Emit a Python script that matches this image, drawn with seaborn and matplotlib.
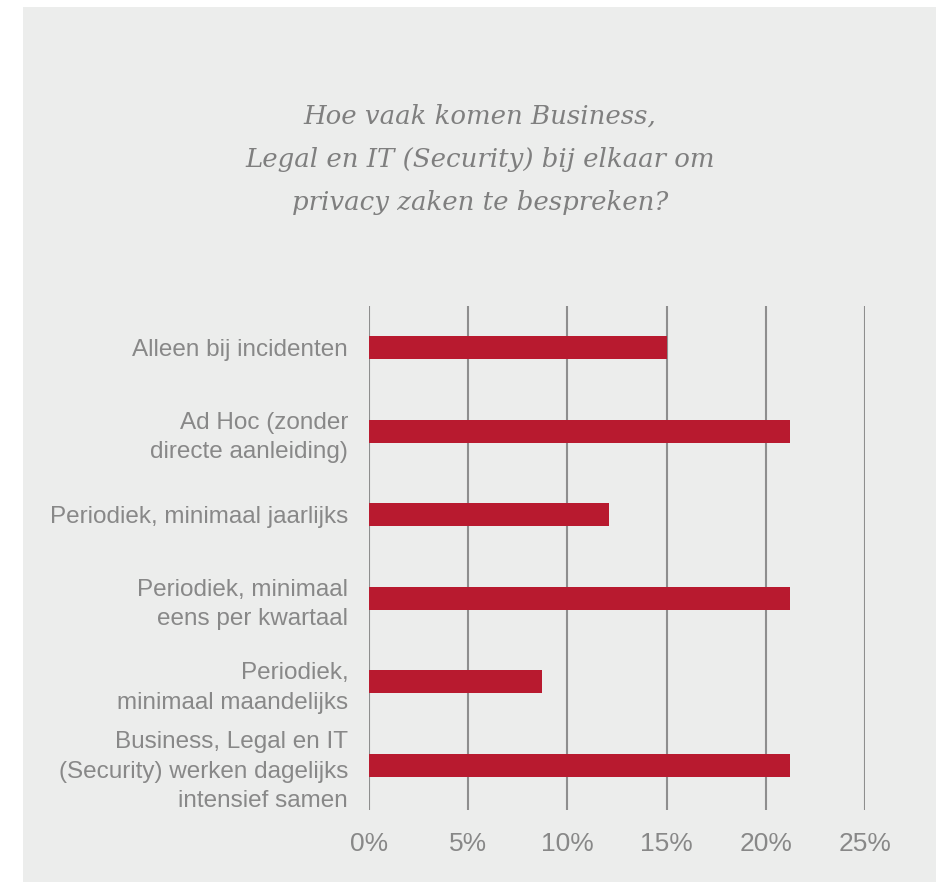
import matplotlib
matplotlib.use("Agg")
import matplotlib.pyplot as plt
from matplotlib.patches import Rectangle
from matplotlib.ticker import FuncFormatter
import pandas as pd
import seaborn as sns

# Survey answers (share of respondents, %)
categories = [
    "Alleen bij incidenten",
    "Ad Hoc (zonder\ndirecte aanleiding)",
    "Periodiek, minimaal jaarlijks",
    "Periodiek, minimaal\neens per kwartaal",
    "Periodiek,\nminimaal maandelijks",
    "Business, Legal en IT\n(Security) werken dagelijks\nintensief samen",
]
values = [15.0, 21.2, 12.1, 21.2, 8.7, 21.2]
x_ticks = [0, 5, 10, 15, 20, 25]
title_lines = [
    "Hoe vaak komen Business,",
    "Legal en IT (Security) bij elkaar om",
    "privacy zaken te bespreken?",
]

df = pd.DataFrame({"antwoord": categories, "aandeel": values})

sns.set_style("white")
plt.rcParams["font.family"] = ["Liberation Sans", "DejaVu Sans"]

W, H = 937, 882
fig = plt.figure(figsize=(W / 100, H / 100), dpi=100)
fig.patch.set_facecolor("white")

panel = "#ecedec"
fig.patches.append(Rectangle((23 / W, 0), 1 - 23 / W, 1 - 7 / H,
                             transform=fig.transFigure, facecolor=panel,
                             edgecolor="none", zorder=-10))

ax = fig.add_axes([369 / W, 1 - 810 / H, (865 - 369) / W, (810 - 306) / H])
ax.set_facecolor("none")

bar_red = "#b81a2f"
grid_grey = "#8e8e8e"
text_grey = "#888888"

sns.barplot(data=df, y="antwoord", x="aandeel", orient="h", color=bar_red,
            width=0.275, saturation=1, linewidth=0, edgecolor="none",
            ax=ax, zorder=3)

ax.set_xlim(0, 25)
ax.set_ylim(5.532, -0.496)
ax.set_xticks(x_ticks)
ax.xaxis.set_major_formatter(FuncFormatter(lambda v, _: f"{v:.0f}%"))
ax.grid(False)
ax.xaxis.grid(True, color=grid_grey, linewidth=1.5, zorder=0)
ax.set_axisbelow(True)
for s in ax.spines.values():
    s.set_visible(False)

ax.set_xlabel("")
ax.set_ylabel("")
ax.set_yticks(range(len(categories)))
ax.set_yticklabels(categories, linespacing=1.45)
ax.tick_params(axis="x", length=0, pad=16, labelsize=19, labelcolor=text_grey)
ax.tick_params(axis="y", length=0, pad=15, labelsize=17.5, labelcolor=text_grey)

cx = (23 + W) / 2 / W
for line, base in zip(title_lines, [124, 167, 210]):
    fig.text(cx, 1 - base / H, line, ha="center", va="baseline",
             family=["DejaVu Serif"], style="italic", fontsize=18.7,
             color="#7f7f7f")

fig.savefig("out.png", dpi=100, facecolor=fig.get_facecolor())
